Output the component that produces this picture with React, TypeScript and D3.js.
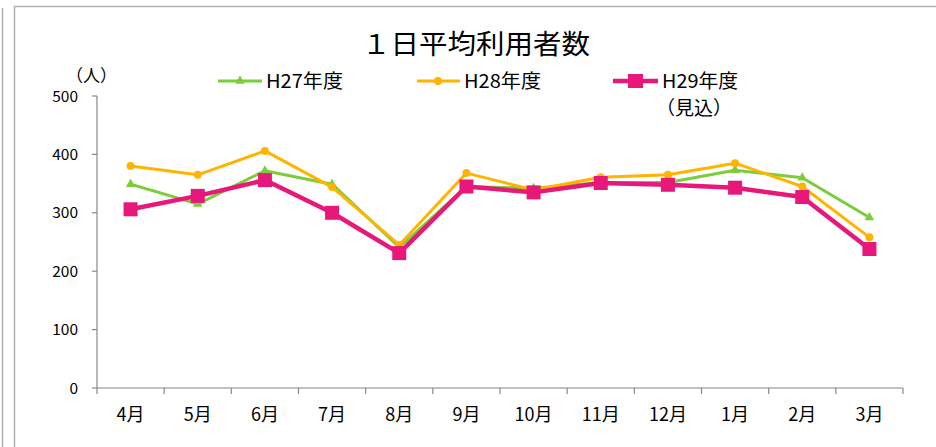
import React from "react";
import * as d3 from "d3";

const months = ["4月", "5月", "6月", "7月", "8月", "9月", "10月", "11月", "12月", "1月", "2月", "3月"];
const h27 = [349, 315, 372, 349, 241, 345, 342, 352, 352, 373, 360, 292];
const h28 = [380, 365, 406, 344, 245, 368, 339, 361, 365, 385, 345, 258];
const h29 = [306, 329, 356, 300, 231, 345, 335, 351, 348, 343, 327, 238];
const yTicks = [0, 100, 200, 300, 400, 500];

const W = 936, H = 447;
const left = 97, right = 903, top = 96, bottom = 388;
const font = "'Noto Sans CJK JP', 'Noto Sans', sans-serif";

const GREEN = "#7DCC3C";
const ORANGE = "#FFB400";
const PINK = "#E8177A";

export default function App() {
  const x = d3.scaleBand<string>().domain(months).range([left, right]);
  const y = d3.scaleLinear().domain([0, 500]).range([bottom, top]);
  const cx = (m: string) => (x(m) as number) + x.bandwidth() / 2;
  const line = (vals: number[]) =>
    d3.line<number>().x((_, i) => cx(months[i])).y((v) => y(v))(vals) as string;
  const tri = d3.symbol().type(d3.symbolTriangle).size(40)() as string;

  return (
    <svg width={W} height={H} style={{ position: "absolute", left: 0, top: 0, background: "#fff" }}>
      {/* frame */}
      <line x1={2.5} y1={8} x2={2.5} y2={H} stroke="#b0b0b0" strokeWidth={1.5} />
      <line x1={14.5} y1={6} x2={14.5} y2={H} stroke="#b0b0b0" strokeWidth={1.5} />
      <line x1={14} y1={6.5} x2={W} y2={6.5} stroke="#b0b0b0" strokeWidth={1.5} />

      {/* title */}
      <text x={362} y={54} fontFamily={font} fontSize={27} fill="#000" textLength={228} lengthAdjust="spacingAndGlyphs">１日平均利用者数</text>
      <text x={66} y={82} fontFamily={font} fontSize={17} fill="#000">（人）</text>

      {/* y axis */}
      <line x1={left} y1={top} x2={left} y2={bottom} stroke="#888" strokeWidth={1.2} />
      {yTicks.map((t) => (
        <g key={t}>
          <line x1={left - 5} y1={y(t)} x2={left} y2={y(t)} stroke="#888" strokeWidth={1.2} />
          <text x={78} y={y(t) + 5.5} textAnchor="end" fontFamily={font} fontSize={15} fill="#000"
            textLength={String(t).length * 8.6} lengthAdjust="spacingAndGlyphs">{t}</text>
        </g>
      ))}
      {/* x axis */}
      <line x1={left} y1={bottom} x2={right} y2={bottom} stroke="#888" strokeWidth={1.2} />
      {months.map((m, i) => (
        <g key={m}>
          <line x1={(x(m) as number) + x.bandwidth()} y1={bottom} x2={(x(m) as number) + x.bandwidth()} y2={bottom + 6} stroke="#888" strokeWidth={1.2} />
          {i === 0 && <line x1={left} y1={bottom} x2={left} y2={bottom + 6} stroke="#888" strokeWidth={1.2} />}
          <text x={cx(m)} y={421} textAnchor="middle" fontFamily={font} fontSize={18} fill="#000">{m}</text>
        </g>
      ))}

      {/* series */}
      <path d={line(h27)} fill="none" stroke={GREEN} strokeWidth={3} strokeLinejoin="round" />
      {h27.map((v, i) => (
        <path key={i} d={tri} transform={`translate(${cx(months[i])},${y(v)})`} fill={GREEN} />
      ))}
      <path d={line(h28)} fill="none" stroke={ORANGE} strokeWidth={3} strokeLinejoin="round" />
      {h28.map((v, i) => (
        <circle key={i} cx={cx(months[i])} cy={y(v)} r={4} fill={ORANGE} />
      ))}
      <path d={line(h29)} fill="none" stroke={PINK} strokeWidth={4.5} strokeLinejoin="round" />
      {h29.map((v, i) => (
        <rect key={i} x={cx(months[i]) - 7} y={y(v) - 7} width={14} height={14} fill={PINK} />
      ))}

      {/* legend */}
      <line x1={218} y1={81} x2={262} y2={81} stroke={GREEN} strokeWidth={3} />
      <path d={tri} transform="translate(240,81)" fill={GREEN} />
      <text x={266} y={88} fontFamily={font} fontSize={19} fill="#000" textLength={77} lengthAdjust="spacingAndGlyphs">H27年度</text>
      <line x1={417} y1={81} x2={460} y2={81} stroke={ORANGE} strokeWidth={3} />
      <circle cx={438} cy={81} r={4} fill={ORANGE} />
      <text x={464} y={88} fontFamily={font} fontSize={19} fill="#000" textLength={77} lengthAdjust="spacingAndGlyphs">H28年度</text>
      <line x1={613} y1={81} x2={658} y2={81} stroke={PINK} strokeWidth={4.5} />
      <rect x={628} y={74} width={15} height={14} fill={PINK} />
      <text x={662} y={88} fontFamily={font} fontSize={19} fill="#000" textLength={76} lengthAdjust="spacingAndGlyphs">H29年度</text>
      <text x={656} y={115} fontFamily={font} fontSize={19} fill="#000">（見込）</text>
    </svg>
  );
}
